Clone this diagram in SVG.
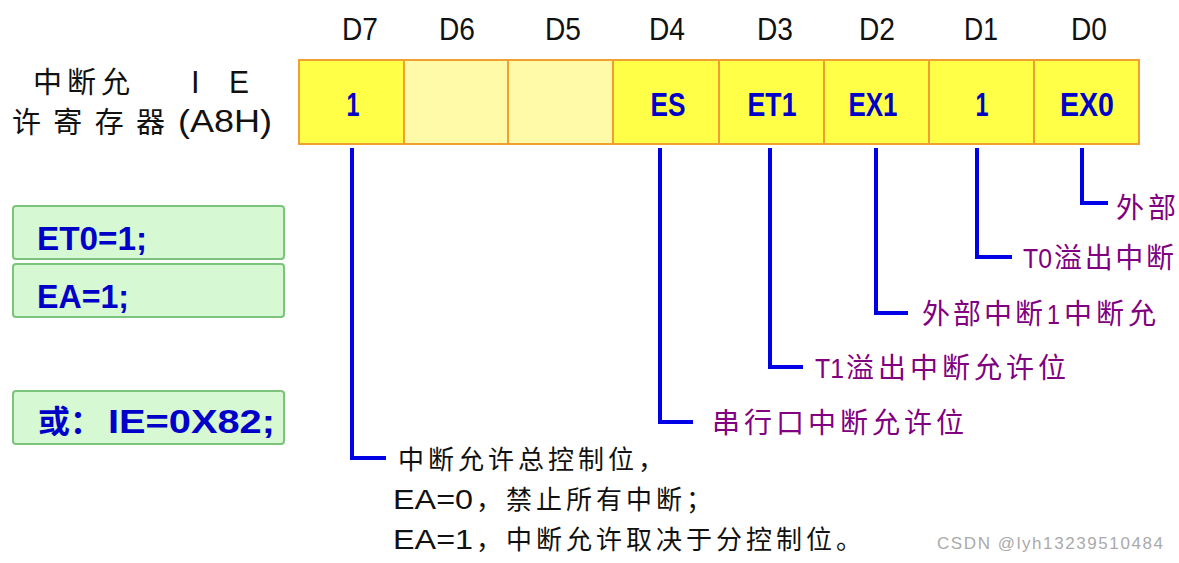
<svg xmlns="http://www.w3.org/2000/svg" width="1179" height="563" viewBox="0 0 1179 563">
<style>
.n{font-family:"Liberation Sans","Noto Sans CJK SC",sans-serif}
.cjk{font-family:"Noto Sans CJK SC","Liberation Sans",sans-serif}
.hd{font-size:32px;fill:#111;text-anchor:middle}
.cell{stroke:#f0a030;stroke-width:2}
.on{fill:#ffff48}
.off{fill:#fffaa8}
.ct{font-size:33px;font-weight:bold;fill:#0000c8;text-anchor:middle}
.gb{fill:#d6f8d2;stroke:#7cc47c;stroke-width:2}
.gt{font-size:34px;font-weight:bold;fill:#0000c8}
.lbl{font-size:28px;fill:#800080;letter-spacing:4px}
.blk{font-size:26px;fill:#111;letter-spacing:4px}
.ln{fill:none;stroke:#0000e6;stroke-width:4}
</style>
<rect width="1179" height="563" fill="#ffffff"/>
<g id="headers" class="n hd">
<text x="360" y="40" textLength="36" lengthAdjust="spacingAndGlyphs">D7</text>
<text x="457" y="40" textLength="36" lengthAdjust="spacingAndGlyphs">D6</text>
<text x="563" y="40" textLength="36" lengthAdjust="spacingAndGlyphs">D5</text>
<text x="667" y="40" textLength="36" lengthAdjust="spacingAndGlyphs">D4</text>
<text x="775" y="40" textLength="36" lengthAdjust="spacingAndGlyphs">D3</text>
<text x="877" y="40" textLength="36" lengthAdjust="spacingAndGlyphs">D2</text>
<text x="981" y="40" textLength="34" lengthAdjust="spacingAndGlyphs">D1</text>
<text x="1089" y="40" textLength="36" lengthAdjust="spacingAndGlyphs">D0</text>
</g>
<g id="title" fill="#111">
<text class="cjk" x="33" y="93" font-size="29" textLength="97" lengthAdjust="spacing">中断允</text>
<text class="n" x="191" y="93" font-size="31">I</text>
<text class="n" x="229" y="93" font-size="31" textLength="20" lengthAdjust="spacingAndGlyphs">E</text>
<text class="cjk" x="12" y="133" font-size="29" textLength="153" lengthAdjust="spacing">许寄存器</text>
<text class="n" x="178" y="132" font-size="31" textLength="94" lengthAdjust="spacingAndGlyphs">(A8H)</text>
</g>
<g id="register">
<g id="bit7"><rect class="cell on" x="299" y="60" width="105" height="84"/><text class="n ct" x="353" y="116" textLength="13" lengthAdjust="spacingAndGlyphs">1</text></g>
<g id="bit6"><rect class="cell off" x="404" y="60" width="104" height="84"/></g>
<g id="bit5"><rect class="cell off" x="508" y="60" width="105" height="84"/></g>
<g id="bit4"><rect class="cell on" x="613" y="60" width="106" height="84"/><text class="n ct" x="668" y="116" textLength="35" lengthAdjust="spacingAndGlyphs">ES</text></g>
<g id="bit3"><rect class="cell on" x="719" y="60" width="105" height="84"/><text class="n ct" x="772" y="116" textLength="49" lengthAdjust="spacingAndGlyphs">ET1</text></g>
<g id="bit2"><rect class="cell on" x="824" y="60" width="105" height="84"/><text class="n ct" x="873" y="116" textLength="49" lengthAdjust="spacingAndGlyphs">EX1</text></g>
<g id="bit1"><rect class="cell on" x="929" y="60" width="105" height="84"/><text class="n ct" x="982" y="116" textLength="13" lengthAdjust="spacingAndGlyphs">1</text></g>
<g id="bit0"><rect class="cell on" x="1034" y="60" width="105" height="84"/><text class="n ct" x="1087" y="116" textLength="54" lengthAdjust="spacingAndGlyphs">EX0</text></g>
</g>
<g id="code">
<g id="c1"><rect class="gb" x="13" y="206" width="271" height="53" rx="3"/><text class="n gt" x="37" y="250" textLength="110" lengthAdjust="spacingAndGlyphs">ET0=1;</text></g>
<g id="c2"><rect class="gb" x="13" y="264" width="271" height="53" rx="3"/><text class="n gt" x="37" y="308" textLength="92" lengthAdjust="spacingAndGlyphs">EA=1;</text></g>
<g id="c3"><rect class="gb" x="13" y="391" width="271" height="53" rx="3"/>
<text class="cjk" x="38" y="433" font-size="32" font-weight="bold" fill="#0000c8">或：</text>
<text class="n gt" x="108" y="433" textLength="167" lengthAdjust="spacingAndGlyphs">IE=0X82;</text></g>
</g>
<g id="connectors" class="ln">
<path d="M352 148V458H386"/>
<path d="M660 148V422H693"/>
<path d="M770 148V367H803"/>
<path d="M876 148V313H908"/>
<path d="M977 148V257H1012"/>
<path d="M1082 148V203H1108"/>
</g>
<g id="labels" class="lbl">
<text class="cjk" x="1116" y="218" letter-spacing="0" textLength="60" lengthAdjust="spacing">外部</text>
<text y="268" letter-spacing="0"><tspan class="n" x="1023" textLength="29" lengthAdjust="spacingAndGlyphs">T0</tspan><tspan class="cjk" x="1054" textLength="120" lengthAdjust="spacing">溢出中断</tspan></text>
<text y="324" letter-spacing="0"><tspan class="cjk" x="922" textLength="121" lengthAdjust="spacing">外部中断</tspan><tspan class="n" x="1047" textLength="13" lengthAdjust="spacingAndGlyphs">1</tspan><tspan class="cjk" x="1064" textLength="92" lengthAdjust="spacing">中断允</tspan></text>
<text y="378"><tspan class="n" x="815" textLength="29" lengthAdjust="spacingAndGlyphs" letter-spacing="0">T1</tspan><tspan class="cjk" x="846">溢出中断允许位</tspan></text>
<text class="cjk" x="712" y="433">串行口中断允许位</text>
</g>
<g id="note" class="blk">
<text class="cjk" x="398" y="469">中断允许总控制位，</text>
<text y="509"><tspan class="n" x="393" letter-spacing="0" textLength="80" lengthAdjust="spacingAndGlyphs" font-size="28">EA=0</tspan><tspan class="cjk" x="476">，禁止所有中断；</tspan></text>
<text y="549"><tspan class="n" x="393" letter-spacing="0" textLength="80" lengthAdjust="spacingAndGlyphs" font-size="28">EA=1</tspan><tspan class="cjk" x="476">，中断允许取决于分控制位。</tspan></text>
</g>
<text x="937" y="549" font-family="Liberation Sans,sans-serif" font-size="17" fill="#aaaaaa" textLength="226" lengthAdjust="spacing">CSDN @lyh13239510484</text>
</svg>
